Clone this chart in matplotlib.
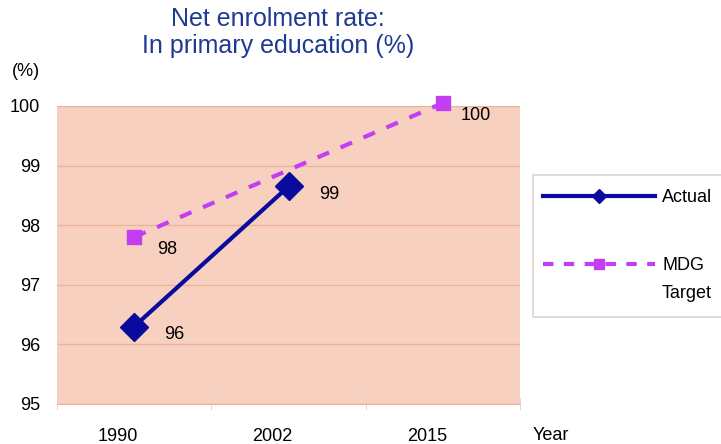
import matplotlib
matplotlib.use("Agg")
import matplotlib.pyplot as plt
from matplotlib.lines import Line2D
from matplotlib.patches import Rectangle
from matplotlib.transforms import ScaledTranslation

# data
categories = ["1990", "2002", "2015"]
actual = [96.3, 98.65, None]
actual_labels = ["96", "99", None]
mdg = [97.8, None, 100.05]
mdg_labels = ["98", None, "100"]
yticks = [95, 96, 97, 98, 99, 100]

BLUE = "#0A0A9C"
VIOLET = "#C23EF2"

plt.rcParams["font.family"] = ["Liberation Sans", "DejaVu Sans"]

fig = plt.figure(figsize=(7.21, 4.44), dpi=100)
ax = fig.add_axes([57 / 721, 1 - 404 / 444, (520 - 57) / 721, (404 - 106) / 444])
ax.set_facecolor("#F8D0BF")

x = list(range(len(categories)))
ax.set_xlim(-0.5, len(categories) - 0.5)
ax.set_ylim(95, 100)
ax.set_yticks(yticks)
ax.set_yticklabels([str(v) for v in yticks], fontsize=13)
ax.grid(axis="y", color="#EBB29C", linewidth=1.0)
ax.set_axisbelow(True)

# category boundaries get the tick marks, labels sit under each category
ax.set_xticks([i - 0.5 for i in range(len(categories) + 1)], minor=True)
ax.set_xticks(x)
ax.set_xticklabels(categories, fontsize=13)
ax.tick_params(axis="x", which="major", length=0, pad=17)
ax.tick_params(axis="x", which="minor", length=8, direction="inout", color="#E6D2CA")
ax.tick_params(axis="y", length=0, pad=12)
shift = ScaledTranslation(-16 / 100, 0, fig.dpi_scale_trans)
for lab in ax.get_xticklabels():
    lab.set_transform(lab.get_transform() + shift)
for side in ["top", "right", "left"]:
    ax.spines[side].set_visible(False)
ax.spines["bottom"].set_color("#EBB29C")

mx = [i for i, v in zip(x, mdg) if v is not None]
my = [v for v in mdg if v is not None]
ax_ = [i for i, v in zip(x, actual) if v is not None]
ay = [v for v in actual if v is not None]

ax.plot(mx, my, color=VIOLET, linestyle=(0, (3, 3)), linewidth=3,
        marker="s", markersize=10.5, clip_on=False, zorder=3)
ax.plot(ax_, ay, color=BLUE, linewidth=3,
        marker="D", markersize=14, clip_on=False, zorder=4)

for i, v, t in zip(x, actual, actual_labels):
    if v is not None:
        ax.annotate(t, (i, v), xytext=(29, -6), textcoords="offset points",
                    fontsize=13, va="center", ha="center", annotation_clip=False)
for i, v, t in zip(x, mdg, mdg_labels):
    if v is not None:
        ax.annotate(t, (i, v), xytext=(24, -9), textcoords="offset points",
                    fontsize=13, va="center", ha="center", annotation_clip=False)

fig.text(278 / 721, 1 - 7 / 444, "Net enrolment rate:\nIn primary education (%)",
         ha="center", va="top", fontsize=18, color="#1F3A93", linespacing=1.15)
fig.text(12 / 721, 1 - 71 / 444, "(%)", ha="left", va="center", fontsize=13)
fig.text(533 / 721, 1 - 435 / 444, "Year", ha="left", va="center", fontsize=13)

# legend box
fig.patches.append(Rectangle((533 / 721, 1 - 317 / 444), 200 / 721, 142 / 444,
                             transform=fig.transFigure, facecolor="white",
                             edgecolor="#DDD6D2", linewidth=1.2, zorder=1))
h_act = Line2D([], [], color=BLUE, linewidth=3, marker="D", markersize=7)
h_mdg = Line2D([], [], color=VIOLET, linewidth=3, linestyle=(0, (2.5, 2.5)),
               marker="s", markersize=7)
leg = fig.legend([h_act, h_mdg], ["Actual", "MDG"], loc="upper left",
                 bbox_to_anchor=(543 / 721, 1 - 189 / 444), borderaxespad=0,
                 borderpad=0, frameon=False, fontsize=13, handlelength=6.2,
                 handletextpad=0.4, labelspacing=2.85)
fig.text(662 / 721, 1 - 293 / 444, "Target", ha="left", va="center", fontsize=13)

fig.savefig("out.png", dpi=100)
